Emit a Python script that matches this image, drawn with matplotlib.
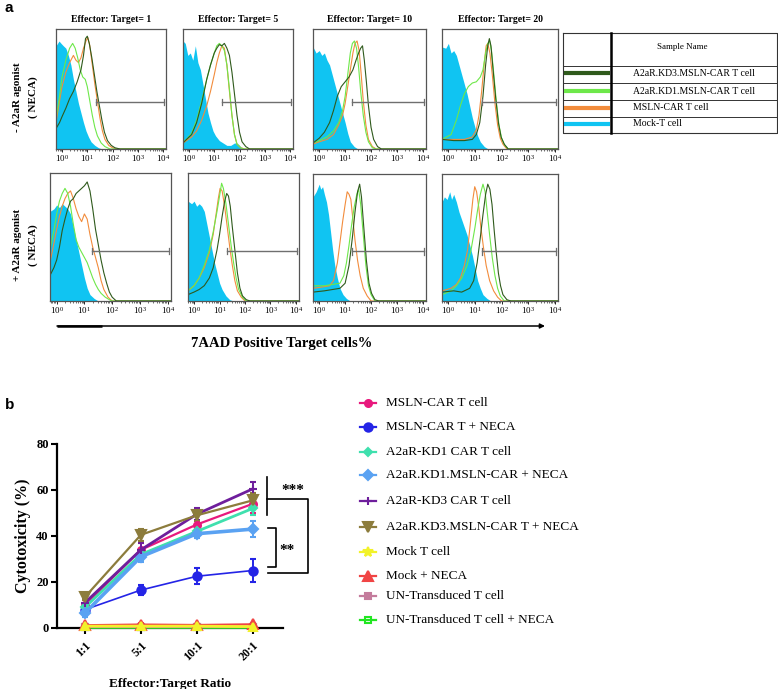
import numpy as np
import matplotlib
matplotlib.use("Agg")
import matplotlib.pyplot as plt

plt.rcParams['mathtext.fontset'] = 'stix'
SERIF = 'Liberation Serif'
SANS = 'Liberation Sans'

W, H = 778, 689

# ---------------- Panel a : flow histograms (x = log10 fluorescence, y = % of max) ----------------
TITLES = ["Effector: Target= 1", "Effector: Target= 5", "Effector: Target= 10", "Effector: Target= 20"]

# top row (- NECA)
t1_mock = [(-0.24,86),(-0.12,90),(-0.04,88),(0.05,86),(0.15,84),(0.25,78),(0.35,70),(0.45,58),(0.55,48),(0.65,38),(0.75,30),(0.85,22),(0.95,15),(1.05,10),(1.15,6),(1.3,3),(1.45,1),(1.6,0)]
t1_msln = [(-0.24,22),(-0.1,40),(0.0,52),(0.15,64),(0.3,72),(0.45,78),(0.55,74),(0.65,72),(0.75,76),(0.85,84),(0.95,90),(1.02,93),(1.1,86),(1.2,70),(1.3,54),(1.4,40),(1.5,26),(1.6,15),(1.7,8),(1.85,3),(2.0,1),(2.2,0)]
t1_kd1 = [(-0.24,25),(-0.1,44),(0.0,60),(0.15,74),(0.3,84),(0.42,88),(0.52,84),(0.62,76),(0.72,66),(0.82,60),(0.92,58),(1.0,52),(1.1,40),(1.2,28),(1.3,18),(1.4,11),(1.55,5),(1.7,2),(1.9,0)]
t1_kd3 = [(-0.24,17),(-0.1,22),(0.0,27),(0.15,34),(0.3,42),(0.45,48),(0.6,56),(0.75,66),(0.85,78),(0.93,92),(1.0,94),(1.08,88),(1.18,76),(1.28,62),(1.38,48),(1.48,36),(1.58,24),(1.68,14),(1.8,7),(1.95,3),(2.1,1),(2.3,0)]

t5_mock = [(-0.24,90),(-0.15,88),(-0.05,78),(0.05,80),(0.15,74),(0.25,86),(0.35,72),(0.45,66),(0.55,54),(0.65,42),(0.75,30),(0.85,22),(0.95,15),(1.05,11),(1.2,7),(1.35,5),(1.5,3),(1.65,3),(1.8,5),(1.9,5),(2.0,3),(2.1,0)]
t5_msln = [(-0.24,5),(-0.1,7),(0.1,10),(0.3,15),(0.5,24),(0.7,36),(0.85,48),(1.0,62),(1.1,72),(1.2,80),(1.3,86),(1.4,84),(1.5,70),(1.6,48),(1.7,28),(1.8,12),(1.9,4),(2.05,1),(2.2,0)]
t5_kd1 = [(-0.24,6),(-0.1,8),(0.1,13),(0.3,24),(0.5,40),(0.7,58),(0.85,70),(1.0,80),(1.1,86),(1.2,88),(1.3,86),(1.4,82),(1.5,70),(1.6,50),(1.7,28),(1.8,12),(1.9,4),(2.05,1),(2.2,0)]
t5_kd3 = [(-0.24,5),(-0.1,8),(0.1,12),(0.3,22),(0.5,38),(0.7,58),(0.85,70),(1.0,80),(1.1,84),(1.2,87),(1.3,86),(1.4,88),(1.5,84),(1.6,78),(1.7,64),(1.8,46),(1.9,28),(2.0,14),(2.1,6),(2.25,2),(2.4,0)]

t10_mock = [(-0.24,85),(-0.12,80),(0.0,82),(0.1,78),(0.2,80),(0.3,74),(0.4,70),(0.5,62),(0.6,54),(0.7,46),(0.8,38),(0.9,30),(1.0,22),(1.1,13),(1.2,6),(1.35,2),(1.5,0)]
t10_msln = [(-0.24,4),(0.0,6),(0.3,8),(0.55,12),(0.75,20),(0.9,28),(1.0,38),(1.1,52),(1.2,66),(1.3,80),(1.38,88),(1.46,90),(1.54,82),(1.62,62),(1.7,40),(1.8,20),(1.9,8),(2.05,2),(2.2,0)]
t10_kd1 = [(-0.24,5),(0.0,7),(0.3,10),(0.55,15),(0.75,22),(0.9,32),(1.0,44),(1.1,62),(1.2,80),(1.28,88),(1.36,90),(1.44,84),(1.52,68),(1.6,48),(1.7,28),(1.8,14),(1.9,6),(2.05,1),(2.2,0)]
t10_kd3 = [(-0.24,5),(0.0,9),(0.2,14),(0.4,22),(0.55,32),(0.7,44),(0.85,52),(1.0,56),(1.15,60),(1.3,66),(1.42,74),(1.52,80),(1.6,84),(1.67,86),(1.74,74),(1.82,56),(1.9,36),(2.0,18),(2.1,8),(2.25,2),(2.4,0)]

t20_mock = [(-0.24,85),(-0.1,84),(0.0,88),(0.1,80),(0.2,82),(0.3,78),(0.4,70),(0.5,62),(0.6,54),(0.7,46),(0.8,36),(0.9,26),(1.0,18),(1.1,11),(1.2,6),(1.35,2),(1.5,0)]
t20_msln = [(-0.24,8),(0.2,8),(0.6,8),(0.9,10),(1.05,16),(1.15,28),(1.25,48),(1.35,72),(1.42,86),(1.48,88),(1.56,80),(1.65,62),(1.75,38),(1.85,20),(1.95,9),(2.05,4),(2.2,0)]
t20_kd1 = [(-0.24,8),(0.1,12),(0.3,24),(0.45,36),(0.6,46),(0.75,52),(0.9,55),(1.05,56),(1.2,60),(1.3,66),(1.4,80),(1.48,88),(1.55,90),(1.62,82),(1.7,64),(1.8,40),(1.9,20),(2.0,9),(2.12,3),(2.25,0)]
t20_kd3 = [(-0.24,8),(0.2,7),(0.6,7),(0.9,8),(1.05,12),(1.18,22),(1.3,44),(1.4,70),(1.48,86),(1.54,92),(1.6,86),(1.68,66),(1.78,42),(1.88,22),(1.98,10),(2.1,4),(2.25,0)]

# bottom row (+ NECA)
b1_mock = [(-0.24,70),(-0.1,72),(0.0,75),(0.1,73),(0.2,76),(0.3,74),(0.4,72),(0.5,68),(0.6,58),(0.7,48),(0.8,38),(0.9,28),(1.0,18),(1.1,10),(1.2,5),(1.35,2),(1.5,0)]
b1_msln = [(-0.24,30),(-0.1,45),(0.0,56),(0.1,66),(0.2,74),(0.3,80),(0.4,84),(0.5,86),(0.6,80),(0.7,72),(0.8,66),(0.9,62),(1.0,68),(1.1,64),(1.2,52),(1.3,42),(1.4,34),(1.5,26),(1.6,16),(1.7,9),(1.85,3),(2.0,0)]
b1_kd1 = [(-0.24,40),(-0.1,55),(0.0,68),(0.1,78),(0.2,84),(0.3,88),(0.4,84),(0.5,74),(0.6,60),(0.7,48),(0.8,42),(0.9,38),(1.0,34),(1.1,30),(1.2,24),(1.3,18),(1.4,13),(1.5,9),(1.6,6),(1.75,3),(1.9,1),(2.0,0)]
b1_kd3 = [(-0.24,20),(-0.1,26),(0.0,32),(0.1,42),(0.2,55),(0.3,64),(0.4,72),(0.5,78),(0.6,80),(0.7,84),(0.8,86),(0.9,88),(1.0,90),(1.1,93),(1.2,86),(1.3,72),(1.4,56),(1.5,44),(1.6,32),(1.7,22),(1.8,14),(1.9,7),(2.0,3),(2.15,0)]

b5_mock = [(-0.24,78),(-0.1,76),(0.0,78),(0.1,74),(0.2,76),(0.3,74),(0.4,70),(0.5,60),(0.6,50),(0.7,40),(0.8,30),(0.9,22),(1.0,14),(1.1,9),(1.25,4),(1.4,1),(1.55,0)]
b5_msln = [(-0.24,8),(0.0,12),(0.2,18),(0.4,26),(0.6,38),(0.75,52),(0.85,66),(0.95,80),(1.02,88),(1.1,86),(1.2,74),(1.3,58),(1.4,42),(1.5,28),(1.6,16),(1.7,8),(1.85,3),(2.0,0)]
b5_kd1 = [(-0.24,8),(0.0,12),(0.2,18),(0.4,28),(0.6,40),(0.75,54),(0.9,70),(1.0,82),(1.08,92),(1.15,88),(1.25,76),(1.35,60),(1.45,44),(1.55,30),(1.65,18),(1.75,9),(1.9,3),(2.05,0)]
b5_kd3 = [(-0.24,5),(0.0,7),(0.2,9),(0.4,12),(0.6,18),(0.75,26),(0.9,40),(1.0,52),(1.1,66),(1.2,78),(1.28,84),(1.35,82),(1.42,74),(1.5,58),(1.6,40),(1.7,22),(1.8,10),(1.9,4),(2.05,1),(2.2,0)]

b10_mock = [(-0.24,82),(-0.12,86),(0.0,92),(0.06,88),(0.13,90),(0.2,84),(0.28,78),(0.36,68),(0.44,54),(0.52,40),(0.6,28),(0.7,18),(0.8,10),(0.92,5),(1.05,2),(1.2,0)]
b10_msln = [(-0.24,10),(0.1,11),(0.4,12),(0.55,16),(0.7,30),(0.8,46),(0.9,62),(1.0,76),(1.08,86),(1.15,84),(1.22,80),(1.3,64),(1.38,48),(1.48,32),(1.58,20),(1.7,10),(1.85,4),(2.0,0)]
b10_kd1 = [(-0.24,12),(0.2,12),(0.5,13),(0.8,14),(0.95,20),(1.05,30),(1.15,44),(1.25,60),(1.35,74),(1.45,84),(1.52,88),(1.6,76),(1.7,52),(1.8,28),(1.9,12),(2.0,5),(2.15,0)]
b10_kd3 = [(-0.24,7),(0.2,8),(0.5,9),(0.8,10),(1.0,14),(1.15,28),(1.28,50),(1.38,70),(1.48,86),(1.56,92),(1.63,82),(1.72,58),(1.82,32),(1.92,14),(2.02,6),(2.15,1),(2.3,0)]

b20_mock = [(-0.24,78),(-0.15,82),(-0.05,80),(0.05,86),(0.12,80),(0.2,84),(0.3,78),(0.4,70),(0.5,64),(0.6,58),(0.7,52),(0.8,44),(0.9,36),(1.0,26),(1.1,16),(1.2,10),(1.3,5),(1.45,2),(1.6,0)]
b20_msln = [(-0.24,8),(0.1,10),(0.3,13),(0.45,18),(0.6,28),(0.72,40),(0.82,60),(0.92,80),(0.99,90),(1.06,86),(1.14,74),(1.22,58),(1.32,42),(1.42,28),(1.55,16),(1.7,8),(1.85,3),(2.0,0)]
b20_kd1 = [(-0.24,5),(0.1,8),(0.3,12),(0.5,18),(0.7,28),(0.85,40),(1.0,58),(1.1,72),(1.2,84),(1.3,92),(1.38,86),(1.46,70),(1.55,52),(1.65,34),(1.75,20),(1.85,10),(1.95,4),(2.1,0)]
b20_kd3 = [(-0.24,7),(0.2,8),(0.5,7),(0.8,10),(0.95,16),(1.08,30),(1.2,50),(1.3,68),(1.4,84),(1.48,92),(1.56,88),(1.64,76),(1.72,56),(1.8,38),(1.88,22),(1.96,12),(2.05,5),(2.2,1),(2.35,0)]

GATE_TOP = [1.35, 1.31, 1.26, 1.26]
GATE_BOT = [1.27, 1.29, 1.26, 1.26]
GATE_LEVEL = 39

HIST_LEGEND = ["A2aR.KD3.MSLN-CAR T cell", "A2aR.KD1.MSLN-CAR T cell", "MSLN-CAR T cell", "Mock-T cell"]
C_KD3, C_KD1, C_MSLN, C_MOCK = '#2f5a1c', '#6ee84a', '#f28c3c', '#10c4f2'

# ---------------- Panel b : cytotoxicity ----------------
RATIOS = ["1:1", "5:1", "10:1", "20:1"]
SERIES = ["MSLN-CAR T cell", "MSLN-CAR T + NECA", "A2aR-KD1 CAR T cell", "A2aR.KD1.MSLN-CAR + NECA",
          "A2aR-KD3 CAR T cell", "A2aR.KD3.MSLN-CAR T + NECA", "Mock T cell", "Mock + NECA",
          "UN-Transduced T cell", "UN-Transduced T cell + NECA"]
msln = [10, 34, 45, 54]
msln_err = [2, 3, 5, 4]
msln_neca = [8, 16.5, 22.5, 25]
msln_neca_err = [1.5, 2, 3.5, 5]
kd1 = [9, 32, 42, 52]
kd1_err = [1.5, 2.5, 2.5, 3]
kd1_neca = [6.5, 31, 41, 43]
kd1_neca_err = [1.5, 2.5, 2, 3.5]
kd3 = [11, 34, 49.5, 60.5]
kd3_err = [2, 3, 2.5, 3]
kd3_neca = [13.5, 40.5, 49, 55.5]
kd3_neca_err = [1.5, 2.5, 2.5, 3]
mock = [0.8, 0.8, 0.8, 0.6]
mock_err = [0.5, 0.5, 0.5, 0.5]
mock_neca = [1.2, 1.5, 1.3, 1.6]
mock_neca_err = [0.6, 0.6, 0.6, 0.6]
untr = [0.6, 0.6, 0.6, 0.6]
untr_err = [0.4, 0.4, 0.4, 0.4]
untr_neca = [0.3, 0.3, 0.3, 0.3]
untr_neca_err = [0.3, 0.3, 0.3, 0.3]

fig = plt.figure(figsize=(W / 100, H / 100), dpi=100)


def ax_px(l, t, r, b):
    return fig.add_axes([l / W, 1 - b / H, (r - l) / W, (b - t) / H])


XMIN, XMAX = -0.24, 4.12
MINOR = [np.log10(k) + n for n in range(-1, 4) for k in range(2, 10) if XMIN < np.log10(k) + n < XMAX]


def hist_panel(box, curves, gate_start, title=None):
    ax = ax_px(*box)
    mock_c, msln_c, kd1_c, kd3_c = curves
    mx, my = zip(*mock_c)
    ax.fill_between(list(mx) + [XMAX], list(my) + [0], 0, color=C_MOCK, lw=0, zorder=1)
    for c, col in ((msln_c, C_MSLN), (kd1_c, C_KD1), (kd3_c, C_KD3)):
        x, y = zip(*c)
        ax.plot(list(x) + [XMAX], list(y) + [0], color=col, lw=0.8, zorder=2, clip_on=True)
    ax.plot([gate_start, 4.06], [GATE_LEVEL, GATE_LEVEL], color='#6f6f6f', lw=1.0, zorder=3)
    for gx in (gate_start, 4.06):
        ax.plot([gx, gx], [GATE_LEVEL - 2.5, GATE_LEVEL + 2.5], color='#6f6f6f', lw=0.9, zorder=3)
    ax.set_xlim(XMIN, XMAX)
    ax.set_ylim(0, 100)
    ax.set_yticks([])
    ax.set_xticks([0, 1, 2, 3, 4])
    ax.set_xticklabels([r'$\mathregular{10^{%d}}$' % i for i in range(5)], fontsize=6.5, family=SERIF)
    ax.set_xticks(MINOR, minor=True)
    ax.tick_params(axis='x', which='major', direction='out', length=2, width=0.6, pad=1)
    ax.tick_params(axis='x', which='minor', direction='out', length=1.2, width=0.4)
    for s in ax.spines.values():
        s.set_color('#555555')
        s.set_linewidth(0.9)
    if title:
        ax.set_title(title, fontsize=7, family=SERIF, fontweight='bold', pad=5)
    return ax


TOP_BOX = [(56, 29, 166, 149), (183, 29, 293, 149), (313, 29, 426, 149), (442, 29, 558, 149)]
BOT_BOX = [(50, 173, 171, 301), (188, 173, 299, 301), (313, 174, 426, 301), (442, 174, 558, 301)]
TOP_CURVES = [(t1_mock, t1_msln, t1_kd1, t1_kd3), (t5_mock, t5_msln, t5_kd1, t5_kd3),
              (t10_mock, t10_msln, t10_kd1, t10_kd3), (t20_mock, t20_msln, t20_kd1, t20_kd3)]
BOT_CURVES = [(b1_mock, b1_msln, b1_kd1, b1_kd3), (b5_mock, b5_msln, b5_kd1, b5_kd3),
              (b10_mock, b10_msln, b10_kd1, b10_kd3), (b20_mock, b20_msln, b20_kd1, b20_kd3)]

for i in range(4):
    hist_panel(TOP_BOX[i], TOP_CURVES[i], GATE_TOP[i], TITLES[i])
    hist_panel(BOT_BOX[i], BOT_CURVES[i], GATE_BOT[i])

# ---------------- Panel b axes ----------------
axb = ax_px(57, 444, 283, 628)
xs = np.arange(len(RATIOS))
styles = [
    (msln, msln_err, '#e8197d', 'o', 5, 'full', 1.6),
    (msln_neca, msln_neca_err, '#2424e6', 'o', 6, 'full', 1.2),
    (kd1, kd1_err, '#3fe0ae', 'D', 4.5, 'full', 2.0),
    (kd1_neca, kd1_neca_err, '#5aa2f2', 'D', 5, 'full', 2.6),
    (kd3, kd3_err, '#6e1e9c', '+', 6, 'full', 2.0),
    (kd3_neca, kd3_neca_err, '#8c7c3c', 'v', 6.5, 'full', 1.6),
    (untr_neca, untr_neca_err, '#22e622', 's', 5, 'none', 2.0),
    (untr, untr_err, '#c47c9c', 's', 5, 'full', 1.6),
    (mock_neca, mock_neca_err, '#f04444', '^', 6.5, 'full', 1.6),
    (mock, mock_err, '#f2f22a', '^', 5.5, 'full', 2.0),
]
for vals, err, col, mk, ms, fill, lw in styles:
    mfc = 'none' if fill == 'none' else col
    axb.errorbar(xs, vals, yerr=err, color=col, marker=mk, ms=ms, mfc=mfc, mec=col, mew=1.5,
                 lw=lw, elinewidth=1.4, capsize=2.5, capthick=1.4, clip_on=False, zorder=3)
axb.set_xlim(-0.5, 3.54)
axb.set_ylim(0, 80)
axb.set_yticks([0, 20, 40, 60, 80])
axb.set_yticklabels(['0', '20', '40', '60', '80'], fontsize=9, family=SERIF, fontweight='bold')
axb.set_xticks(xs)
axb.set_xticklabels(RATIOS, fontsize=8.5, family=SERIF, fontweight='bold', rotation=45,
                    ha='right', rotation_mode='anchor')
axb.spines['top'].set_visible(False)
axb.spines['right'].set_visible(False)
axb.spines['left'].set_linewidth(1.6)
axb.spines['bottom'].set_linewidth(1.6)
axb.tick_params(width=1.5, length=4, pad=2)
axb.tick_params(axis='x', pad=4)
axb.set_ylabel("Cytotoxicity (%)", fontsize=11.5, family=SERIF, fontweight='bold', labelpad=4)
axb.set_xlabel("Effector:Target Ratio", fontsize=9.5, family=SERIF, fontweight='bold', labelpad=11)

# ---------------- overlay (annotations in pixel space) ----------------
ov = fig.add_axes([0, 0, 1, 1])
ov.set_xlim(0, W)
ov.set_ylim(H, 0)
ov.axis('off')
ov.patch.set_alpha(0)

ov.text(5, 8, "a", fontsize=11, family=SANS, fontweight='bold', va='center', ha='left')
ov.text(5, 405, "b", fontsize=11, family=SANS, fontweight='bold', va='center', ha='left')

ov.text(18, 97, "- A2aR agonist", rotation=90, fontsize=8, family=SERIF, fontweight='bold', ha='center', va='center')
ov.text(33, 97, "( NECA)", rotation=90, fontsize=8, family=SERIF, fontweight='bold', ha='center', va='center')
ov.text(18, 245, "+ A2aR agonist", rotation=90, fontsize=8, family=SERIF, fontweight='bold', ha='center', va='center')
ov.text(33, 245, "( NECA)", rotation=90, fontsize=8, family=SERIF, fontweight='bold', ha='center', va='center')

ov.annotate('', xy=(545, 326), xytext=(57, 326),
            arrowprops=dict(arrowstyle='-|>', lw=1.1, color='black', mutation_scale=7, shrinkA=0, shrinkB=0))
ov.plot([57, 102], [326, 326], color='black', lw=1.8, solid_capstyle='butt')
ov.text(282, 343, "7AAD Positive Target cells%", fontsize=10.5, family=SERIF, fontweight='bold',
        ha='center', va='center')

# histogram legend table
ov.plot([563, 777, 777, 563, 563], [33, 33, 133, 133, 33], color='#333333', lw=0.8)
for yy in (66, 82.5, 99.5, 116.5):
    ov.plot([563, 777], [yy, yy], color='#333333', lw=0.7)
ov.plot([611, 611], [33, 133], color='black', lw=1.8)
ov.text(682, 47, "Sample Name", fontsize=6.5, family=SERIF, ha='center', va='center')
for lab, col, yy in zip(HIST_LEGEND, (C_KD3, C_KD1, C_MSLN, C_MOCK), (73, 91, 108, 124)):
    ov.plot([564, 610], [yy, yy], color=col, lw=3, solid_capstyle='butt')
    ov.text(633, yy, lab, fontsize=7, family=SERIF, ha='left', va='center')

# panel b legend
LEG_Y = [403, 427, 452, 475, 501, 527, 552, 576, 596, 620]
LEG_STYLE = [('#e8197d', 'o', 5, 'full'), ('#2424e6', 'o', 6, 'full'), ('#3fe0ae', 'D', 4.5, 'full'),
             ('#5aa2f2', 'D', 5, 'full'), ('#6e1e9c', '+', 6, 'full'), ('#8c7c3c', 'v', 7, 'full'),
             ('#f2f22a', '*', 7, 'full'), ('#f04444', '^', 7, 'full'), ('#c47c9c', 's', 5, 'full'),
             ('#22e622', 's', 5, 'none')]
for lab, (col, mk, ms, fill), yy in zip(SERIES, LEG_STYLE, LEG_Y):
    ov.plot([360, 376], [yy, yy], color=col, lw=1.6)
    ov.plot([368], [yy], marker=mk, ms=ms, color=col, mec=col, mew=1.5,
            mfc=('none' if fill == 'none' else col))
    ov.text(386, yy, lab, fontsize=9.5, family=SERIF, ha='left', va='center')

# significance brackets
ov.plot([267, 267], [477, 515], color='black', lw=1.2)
ov.plot([267, 308, 308, 268], [499, 499, 573, 573], color='black', lw=1.2)
ov.plot([268, 276, 276, 268], [528, 528, 567, 567], color='black', lw=1.2)
ov.text(293, 491, "***", fontsize=11, family=SERIF, fontweight='bold', ha='center', va='center')
ov.text(287, 550, "**", fontsize=11, family=SERIF, fontweight='bold', ha='center', va='center')

fig.savefig("out.png", dpi=100)
